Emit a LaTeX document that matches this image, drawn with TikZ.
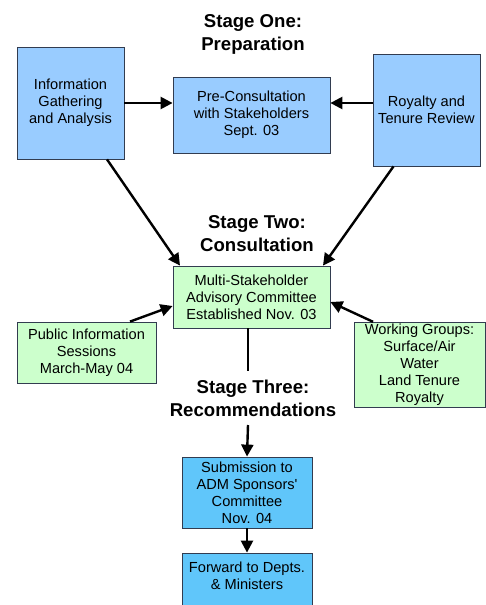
\documentclass[tikz,border=0pt]{standalone}
\usepackage{fontspec}
\setmainfont{Liberation Sans}
\usetikzlibrary{arrows.meta,calc}
\definecolor{lblue}{RGB}{153,204,255}
\definecolor{sblue}{RGB}{96,198,250}
\definecolor{lgreen}{RGB}{204,255,204}
\definecolor{edge}{RGB}{50,60,80}
\begin{document}
\begin{tikzpicture}[x=1pt,y=-1pt,
  box/.style={draw=edge,line width=0.8pt,align=center,inner sep=2pt,
    font=\fontsize{14.6}{17}\selectfont},
  bluebox/.style={box,fill=lblue},
  skybox/.style={box,fill=sblue},
  greenbox/.style={box,fill=lgreen},
  title/.style={align=center,font=\fontsize{18.6}{22.5}\selectfont\bfseries},
  arr/.style={line width=2.4pt,-{Triangle[length=12pt,width=12pt]}},
  plain/.style={line width=2.4pt}]
\clip (0,0) rectangle (486,605);
\useasboundingbox (0,0) rectangle (486,605);
\fill[white] (0,0) rectangle (486,605);

\node[title] (t1) at (253,34.5) {Stage One:\\Preparation};
\node[bluebox,minimum width=107pt,minimum height=112pt] (b1) at (70.5,103) {Information\\Gathering\\and Analysis};
\node[bluebox,minimum width=157pt,minimum height=76pt] (b2) at (251.5,115) {Pre-Consultation\\with Stakeholders\\Sept. 03};
\node[bluebox,minimum width=107pt,minimum height=112pt] (b3) at (426.5,110) {Royalty and\\Tenure Review};

\node[title] (t2) at (257,233.5) {Stage Two:\\Consultation};
\node[greenbox,minimum width=157pt,minimum height=62pt] (m) at (251.5,297) {Multi-Stakeholder\\Advisory Committee\\Established Nov. 03};
\node[greenbox,minimum width=139pt,minimum height=61pt] (pub) at (86.5,352.5) {Public Information\\Sessions\\March-May 04};
\node[greenbox,minimum width=131pt,minimum height=84pt] (wg) at (419.5,365) {Working Groups:\\Surface/Air\\Water\\Land Tenure\\Royalty};

\node[title] (t3) at (253,398.5) {Stage Three:\\Recommendations};
\node[skybox,minimum width=130pt,minimum height=71pt] (sub) at (247,492.5) {Submission to\\ADM Sponsors\textquotesingle\\Committee\\Nov. 04};
\node[skybox,minimum width=130pt,minimum height=62pt] (fwd) at (247,584) {};
\node[font=\fontsize{14.6}{17}\selectfont,align=center] (fwdt) at (247,576) {Forward to Depts.\\\& Ministers};

\coordinate (mdown) at (248,371);
\coordinate (t3down) at (248,425);

\draw[arr] (b1.east) -- (b2.west |- b1.east);
\draw[arr] (b3.west |- b1.east) -- (b2.east |- b1.east);
\draw[arr] ([xshift=36.5pt]b1.south) -- ([xshift=-71.5pt]m.north);
\draw[arr] ([xshift=-33pt]b3.south) -- ([xshift=71.5pt]m.north);
\draw[arr] ([xshift=43.5pt]pub.north) -- ([yshift=-9pt]m.west);
\draw[arr] ([xshift=-46.5pt]wg.north) -- ([yshift=-5pt]m.east);
\draw[plain] (m.south -| mdown) -- (mdown);
\draw[arr] (t3down) -- (sub.north);
\draw[arr] (sub.south) -- (fwd.north);
\end{tikzpicture}
\end{document}
